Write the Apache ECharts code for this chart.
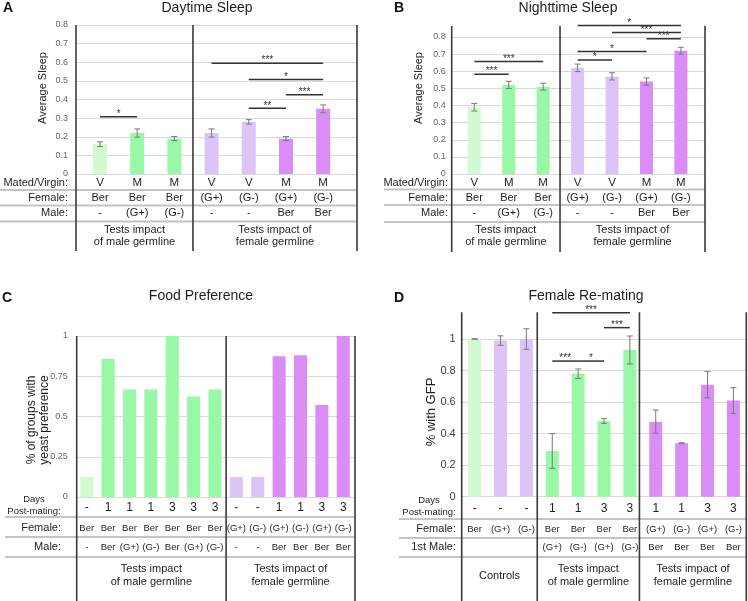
<!DOCTYPE html>
<html><head><meta charset="utf-8">
<script src="https://cdn.jsdelivr.net/npm/echarts@6/dist/echarts.min.js"></script>
<style>html,body{margin:0;padding:0;background:#fff}#c{width:748px;height:601px}</style>
</head><body><div id="c"></div>
<script>
// ================= DATA =================
// Panel A – Daytime Sleep
const aMated  = ['V','M','M','V','V','M','M'];
const aFemale = ['Ber','Ber','Ber','(G+)','(G-)','(G+)','(G-)'];
const aMale   = ['-','(G+)','(G-)','-','-','Ber','Ber'];
const aValues = [0.16,0.22,0.19,0.22,0.28,0.19,0.35];
const aErrors = [0.013,0.022,0.011,0.022,0.012,0.011,0.021];
const aColors = ['lg','g','g','lp','lp','p','p'];
const aSig    = [[0,1,0.308,'*'],[4,5,0.353,'**'],[5,6,0.425,'***'],[4,6,0.507,'*'],[3,6,0.595,'***']];
const aRowLabels = ['Mated/Virgin:','Female:','Male:'];
const aSections  = ['Tests impact\nof male germline','Tests impact of\nfemale germline'];

// Panel B – Nighttime Sleep
const bMated  = ['V','M','M','V','V','M','M'];
const bFemale = ['Ber','Ber','Ber','(G+)','(G-)','(G+)','(G-)'];
const bMale   = ['-','(G+)','(G-)','-','-','Ber','Ber'];
const bValues = [0.39,0.52,0.51,0.62,0.57,0.54,0.72];
const bErrors = [0.022,0.021,0.02,0.022,0.021,0.021,0.02];
const bColors = ['lg','g','g','lp','lp','p','p'];
const bSig    = [[0,1,0.583,'***'],[0,2,0.657,'***'],[3,4,0.665,'*'],[3,5,0.715,'*'],[5,6,0.79,'***'],[4,6,0.826,'***'],[3,6,0.867,'*']];
const bRowLabels = ['Mated/Virgin:','Female:','Male:'];
const bSections  = ['Tests impact\nof male germline','Tests impact of\nfemale germline'];

// Panel C – Food Preference
const cDays   = ['-','1','1','1','3','3','3','-','-','1','1','3','3'];
const cFemale = ['Ber','Ber','Ber','Ber','Ber','Ber','Ber','(G+)','(G-)','(G+)','(G-)','(G+)','(G-)'];
const cMale   = ['-','Ber','(G+)','(G-)','Ber','(G+)','(G-)','-','-','Ber','Ber','Ber','Ber'];
const cValues = [0.125,0.857,0.667,0.667,1.0,0.625,0.667,0.125,0.125,0.875,0.88,0.571,1.0];
const cColors = ['lg','g','g','g','g','g','g','lp','lp','p','p','p','p'];
const cRowLabels = ['Days\nPost-mating:','Female:','Male:'];
const cSections  = ['Tests impact\nof male germline','Tests impact of\nfemale germline'];

// Panel D – Female Re-mating
const dDays   = ['-','-','-','1','1','3','3','1','1','3','3'];
const dFemale = ['Ber','(G+)','(G-)','Ber','Ber','Ber','Ber','(G+)','(G-)','(G+)','(G-)'];
const dMale   = ['','','','(G+)','(G-)','(G+)','(G-)','Ber','Ber','Ber','Ber'];
const dValues = [1.0,0.99,1.0,0.29,0.78,0.48,0.93,0.476,0.339,0.71,0.61];
const dErrors = [0.002,0.03,0.065,0.11,0.03,0.015,0.089,0.073,0.003,0.083,0.082];
const dColors = ['lg','lp','lp','g','g','g','g','p','p','p','p'];
const dSig    = [[3,6,1.166,'***'],[5,6,1.072,'***'],[3,4,0.86,'***'],[4,5,0.86,'*']];
const dRowLabels = ['Days\nPost-mating:','Female:','1st Male:'];
const dSections  = ['Controls','Tests impact\nof male germline','Tests impact of\nfemale germline'];

// ================= STYLE / LAYOUT =================
const COLORS = {lg:'#d2fad2', g:'#98f8a5', lp:'#dcc4f8', p:'#da8cf7'};
const FONT = "'Liberation Sans', Arial, sans-serif";
const INK = '#1e1e1e';

const panels = [
 { values:aValues, errors:aErrors, colors:aColors, sig:aSig, rows:[aMated,aFemale,aMale], sections:aSections,
   grid:{left:76, top:25, width:281, height:149}, xMin:-0.645, xMax:6.91, yMax:0.8, yInt:0.1,
   yLabel:{fontSize:9, color:'#666', margin:8}, barWidth:14,
   dividers:[-0.645,2.5,6.91], divTop:0.8, divBottom:251,
   rowY:[183,198,213], rowFont:[11.5,11,11], captionY:236, captionLH:12.5,
   rowLabels:[[aRowLabels[0],68,183,'right'],[aRowLabels[1],68,198,'right'],[aRowLabels[2],68,213,'right']],
   hl:{x1:0,x2:357,ys:[190,205.5,221.5]},
   title:['Daytime Sleep',207,8], letter:['A',3,8], yName:['Average Sleep',43,88,11,0] },
 { values:bValues, errors:bErrors, colors:bColors, sig:bSig, rows:[bMated,bFemale,bMale], sections:bSections,
   grid:{left:451.7, top:37, width:253.3, height:137}, xMin:-0.656, xMax:6.70, yMax:0.8, yInt:0.1,
   yLabel:{fontSize:9, color:'#666', margin:6}, barWidth:13,
   dividers:[-0.656,2.49,6.70], divTop:0.865, divBottom:252,
   rowY:[183,198,213], rowFont:[11.5,11,11], captionY:236, captionLH:12.5,
   rowLabels:[[bRowLabels[0],448,183,'right'],[bRowLabels[1],448,198,'right'],[bRowLabels[2],448,213,'right']],
   hl:{x1:384,x2:705,ys:[189.5,205,222]},
   title:['Nighttime Sleep',568,8], letter:['B',394,8], yName:['Average Sleep',419,88,11,0] },
 { values:cValues, errors:null, colors:cColors, sig:[], rows:[cDays,cFemale,cMale], sections:cSections,
   grid:{left:76.7, top:336, width:278.3, height:161}, xMin:-0.47, xMax:12.55, yMax:1, yInt:0.25,
   yLabel:{fontSize:9, color:'#666', margin:9}, barWidth:13,
   dividers:[-0.47,6.52,12.55], divTop:1, divBottom:601,
   rowY:[508,528,547], rowFont:[12,9.5,9.5], captionY:575.5, captionLH:13,
   rowLabels:[[cRowLabels[0],34,505,'center',9.5],[cRowLabels[1],61,528,'right'],[cRowLabels[2],61,547,'right']],
   hl:{x1:5,x2:355,ys:[517,537,557]},
   title:['Food Preference',201,296], letter:['C',2,298], yName:['% of groups with\nyeast preference',38,420,12,13] },
 { values:dValues, errors:dErrors, colors:dColors, sig:dSig, rows:[dDays,dFemale,dMale], sections:dSections,
   grid:{left:461.7, top:339, width:284.6, height:157.7}, xMin:-0.5, xMax:10.5, yMax:1, yInt:0.2,
   yLabel:{fontSize:11, color:'#404040', margin:6}, barWidth:13,
   dividers:[-0.5,2.42,6.37,10.5], divTop:1.17, divBottom:601,
   rowY:[509,529,547], rowFont:[12,9.5,9.5], captionY:575.5, captionLH:13,
   rowLabels:[[dRowLabels[0],429,506,'center',9.5],[dRowLabels[1],456,529,'right'],[dRowLabels[2],456,547,'right']],
   hl:{x1:399,x2:746,ys:[519,538,557]},
   title:['Female Re-mating',586,296], letter:['D',394,298], yName:['% with GFP',431,412,13,0] }
];

// ================= BUILD =================
const grid=[], xAxis=[], yAxis=[], series=[], graphic=[];
panels.forEach((p,k)=>{
  grid.push(Object.assign({containLabel:false}, p.grid));
  xAxis.push({type:'value', gridIndex:k, min:p.xMin, max:p.xMax, show:false});
  yAxis.push({type:'value', gridIndex:k, min:0, max:p.yMax, interval:p.yInt,
    axisLine:{show:false}, axisTick:{show:false},
    axisLabel:{fontSize:p.yLabel.fontSize, color:p.yLabel.color, margin:p.yLabel.margin, fontFamily:FONT},
    splitLine:{lineStyle:{color:'#dadada', width:1}}});
  // bars
  series.push({type:'bar', xAxisIndex:k, yAxisIndex:k, barWidth:p.barWidth, z:2, animation:false,
    data:p.values.map((v,i)=>({value:[i,v], itemStyle:{color:COLORS[p.colors[i]]}}))});
  // error bars
  if(p.errors){
    series.push({type:'custom', xAxisIndex:k, yAxisIndex:k, z:3, clip:false, animation:false,
      data:p.values.map((v,i)=>[i,v,p.errors[i]]),
      renderItem:(params,api)=>{
        const x=api.value(0), v=api.value(1), e=api.value(2);
        const t=api.coord([x,v+e]), b=api.coord([x,v-e]); const w=3;
        const st={stroke:'#7a7a7a', lineWidth:1};
        return {type:'group', children:[
          {type:'line', shape:{x1:t[0],y1:t[1],x2:b[0],y2:b[1]}, style:st},
          {type:'line', shape:{x1:t[0]-w,y1:t[1],x2:t[0]+w,y2:t[1]}, style:st},
          {type:'line', shape:{x1:b[0]-w,y1:b[1],x2:b[0]+w,y2:b[1]}, style:st}]};
      }});
  }
  // significance brackets
  if(p.sig.length){
    series.push({type:'custom', xAxisIndex:k, yAxisIndex:k, z:4, clip:false, animation:false,
      data:p.sig.map(s=>[s[0],s[1],s[2]]),
      renderItem:(params,api)=>{
        const a=api.coord([api.value(0),api.value(2)]), b=api.coord([api.value(1),api.value(2)]);
        return {type:'group', children:[
          {type:'line', shape:{x1:a[0],y1:a[1],x2:b[0],y2:b[1]}, style:{stroke:'#333', lineWidth:1.5}},
          {type:'text', x:(a[0]+b[0])/2, y:a[1]-2.5, style:{text:p.sig[params.dataIndex][3], align:'center', verticalAlign:'middle', fontSize:10, fontFamily:FONT, fill:'#333'}}]};
      }});
  }
  // dividers (vertical lines through plot and table)
  series.push({type:'custom', xAxisIndex:k, yAxisIndex:k, z:5, clip:false, animation:false,
    data:p.dividers.map(d=>[d,p.divTop]),
    renderItem:(params,api)=>{
      const t=api.coord([api.value(0),api.value(1)]);
      return {type:'line', shape:{x1:t[0],y1:t[1],x2:t[0],y2:p.divBottom}, style:{stroke:'#3a3a3a', lineWidth:1.6}};
    }});
  // table columns
  series.push({type:'custom', xAxisIndex:k, yAxisIndex:k, z:5, clip:false, animation:false,
    data:p.values.map((v,i)=>[i,0]),
    renderItem:(params,api)=>{
      const i=params.dataIndex; const x=api.coord([i,0])[0];
      return {type:'group', children:p.rows.map((r,j)=>({type:'text', x:x, y:p.rowY[j],
        style:{text:r[i], align:'center', verticalAlign:'middle', fontSize:p.rowFont[j], fontFamily:FONT, fill:INK}}))};
    }});
  // section captions
  series.push({type:'custom', xAxisIndex:k, yAxisIndex:k, z:5, clip:false, animation:false,
    data:p.sections.map((s,j)=>[(p.dividers[j]+p.dividers[j+1])/2,0]),
    renderItem:(params,api)=>{
      const x=api.coord([api.value(0),0])[0];
      return {type:'text', x:x, y:p.captionY, style:{text:p.sections[params.dataIndex], align:'center', verticalAlign:'middle',
        fontSize:11, lineHeight:p.captionLH, fontFamily:FONT, fill:INK}};
    }});
  // graphics: title, letter, axis name, row labels, horizontal table lines
  graphic.push({type:'text', x:p.title[1], y:p.title[2], style:{text:p.title[0], align:'center', verticalAlign:'middle', fontSize:14, fontFamily:FONT, fill:INK}});
  graphic.push({type:'text', x:p.letter[1], y:p.letter[2], style:{text:p.letter[0], align:'left', verticalAlign:'middle', fontSize:14, fontWeight:'bold', fontFamily:FONT, fill:'#111'}});
  graphic.push({type:'text', x:p.yName[1], y:p.yName[2], rotation:Math.PI/2,
    style:{text:p.yName[0], align:'center', verticalAlign:'middle', fontSize:p.yName[3], lineHeight:p.yName[4]||undefined, fontFamily:FONT, fill:INK}});
  p.rowLabels.forEach(r=>{
    graphic.push({type:'text', x:r[1], y:r[2], style:{text:r[0], align:r[3], verticalAlign:'middle', fontSize:r[4]||11, lineHeight:12, fontFamily:FONT, fill:INK}});
  });
  p.hl.ys.forEach(y=>{
    graphic.push({type:'line', shape:{x1:p.hl.x1,y1:y,x2:p.hl.x2,y2:y}, style:{stroke:'#c4c4c4', lineWidth:2}, z:1});
  });
});

const chart = echarts.init(document.getElementById('c'), null, {renderer:'canvas'});
chart.setOption({animation:false, backgroundColor:'#fff', grid, xAxis, yAxis, series, graphic});
</script>
</body></html>
